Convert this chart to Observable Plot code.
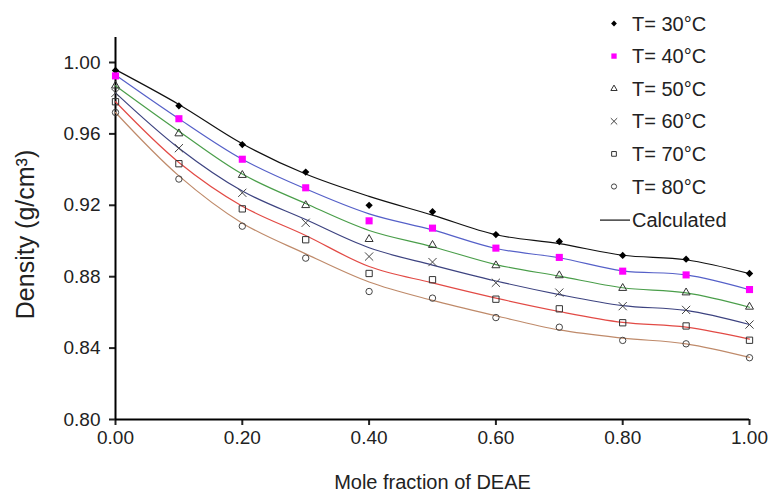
<!DOCTYPE html>
<html><head><meta charset="utf-8">
<script src="https://cdn.jsdelivr.net/npm/d3@7"></script>
<script src="https://cdn.jsdelivr.net/npm/@observablehq/plot@0.6"></script>
<style>
body{margin:0;background:#fff;font-family:"Liberation Sans",Arial,sans-serif;}
#wrap{position:relative;width:768px;height:495px;}
#legend{position:absolute;left:0;top:0;pointer-events:none;}
</style></head><body><div id="wrap"></div>
<script>
const moleFraction = [0, 0.1, 0.2, 0.3, 0.4, 0.5, 0.6, 0.7, 0.8, 0.9, 1.0];
const temperatures = ["T= 30°C", "T= 40°C", "T= 50°C", "T= 60°C", "T= 70°C", "T= 80°C"];
const xTicks = [0, 0.2, 0.4, 0.6, 0.8, 1.0];
const yTicks = [0.80, 0.84, 0.88, 0.92, 0.96, 1.00];

// experimental densities
const exp30 = [0.9955, 0.9757, 0.954, 0.9386, 0.920, 0.9164, 0.9036, 0.8997, 0.8919, 0.8898, 0.8818];
const exp40 = [0.9925, 0.9685, 0.9458, 0.9298, 0.9113, 0.9072, 0.896, 0.8908, 0.8831, 0.881, 0.8728];
const exp50 = [0.987, 0.9602, 0.9369, 0.920, 0.901, 0.8977, 0.8863, 0.8807, 0.8736, 0.8711, 0.8631];
const exp60 = [0.983, 0.952, 0.927, 0.9102, 0.8913, 0.8882, 0.8766, 0.8711, 0.8635, 0.8614, 0.8532];
const exp70 = [0.978, 0.9433, 0.918, 0.9007, 0.8818, 0.8783, 0.8674, 0.862, 0.8542, 0.8524, 0.8444];
const exp80 = [0.972, 0.9347, 0.9083, 0.8904, 0.8717, 0.868, 0.8571, 0.8517, 0.8443, 0.8424, 0.8346];

// calculated densities
const calc30 = [0.996, 0.9765, 0.9545, 0.9375, 0.925, 0.9145, 0.9035, 0.8985, 0.892, 0.8895, 0.8817];
const calc40 = [0.993, 0.9685, 0.9458, 0.9292, 0.9152, 0.9062, 0.8958, 0.8906, 0.8833, 0.881, 0.8727];
const calc50 = [0.987, 0.9615, 0.9375, 0.921, 0.9059, 0.8968, 0.8868, 0.8803, 0.8738, 0.8709, 0.8629];
const calc60 = [0.983, 0.952, 0.928, 0.912, 0.8962, 0.8865, 0.8776, 0.8700, 0.8638, 0.8611, 0.8532];
const calc70 = [0.978, 0.944, 0.9195, 0.9031, 0.8857, 0.8765, 0.868, 0.8605, 0.8544, 0.8517, 0.845];
const calc80 = [0.972, 0.9365, 0.910, 0.8928, 0.877, 0.8667, 0.8581, 0.8502, 0.8456, 0.8424, 0.8348];

const expSeries = [exp30, exp40, exp50, exp60, exp70, exp80];
const calcSeries = [calc30, calc40, calc50, calc60, calc70, calc80];

const lineColors = ["#111111", "#5560c8", "#4a9e4a", "#3d4380", "#e24a45", "#bf8a6a"];
const markers = [
  {symbol: "diamond2", fill: "#000", stroke: "none", r: 3.3, lr: 2.6},
  {symbol: "square", fill: "#ff00ff", stroke: "none", r: 4.0, lr: 3.0},
  {symbol: "triangle2", fill: "none", stroke: "#333", r: 3.8, lr: 3.0},
  {symbol: "times", fill: "none", stroke: "#444", r: 3.8, lr: 3.0},
  {symbol: "square2", fill: "none", stroke: "#333", r: 4.0, lr: 3.0},
  {symbol: "circle", fill: "none", stroke: "#444", r: 3.2, lr: 2.6}
];

const expRows = [];
expSeries.forEach((s, i) => s.forEach((v, j) => expRows.push({T: temperatures[i], x: moleFraction[j], y: v})));
const calcRows = [];
calcSeries.forEach((s, i) => s.forEach((v, j) => calcRows.push({T: temperatures[i], x: moleFraction[j], y: v})));

const font = "'Liberation Sans', Arial, sans-serif";

const plot = Plot.plot({
  width: 768, height: 495,
  marginLeft: 115, marginRight: 19, marginTop: 37, marginBottom: 76,
  style: {fontFamily: font, fontSize: "19px", color: "#222", background: "#fff"},
  x: {domain: [0, 1]},
  y: {domain: [0.80, 1.014]},
  marks: [
    Plot.axisX({ticks: xTicks, tickFormat: d3.format(".2f"), tickSize: 6, tickPadding: 5, strokeWidth: 2, label: null, fontSize: 19}),
    Plot.axisY({ticks: yTicks, tickFormat: d3.format(".2f"), tickSize: 6, tickPadding: 9, strokeWidth: 2, label: null, fontSize: 19}),
    Plot.ruleY([0.80], {strokeWidth: 2, stroke: "#000"}),
    Plot.ruleX([0], {strokeWidth: 2, stroke: "#000"}),
    Plot.text(["Mole fraction of DEAE"], {frameAnchor: "bottom", dy: 63, fontSize: 20, fill: "#222", lineAnchor: "middle"}),
    Plot.text(["Density (g/cm³)"], {frameAnchor: "left", textAnchor: "middle", dx: -90, dy: 6, rotate: -90, fontSize: 25, fill: "#222", lineAnchor: "middle"}),
    ...temperatures.map((t, i) => Plot.line(calcRows.filter(d => d.T === t), {x: "x", y: "y", stroke: lineColors[i], strokeWidth: 1.2, curve: "catmull-rom"})),
    ...temperatures.map((t, i) => Plot.dot(expRows.filter(d => d.T === t), {x: "x", y: "y", symbol: () => markers[i].symbol, r: markers[i].r, fill: markers[i].fill, stroke: markers[i].stroke, strokeWidth: 1}))
  ]
});

const wrap = document.getElementById("wrap");
wrap.appendChild(plot);

// legend overlay
const legendRows = [...temperatures, "Calculated"];
const lg = d3.select(wrap).append("svg").attr("id", "legend").attr("width", 768).attr("height", 495);
const symMap = {diamond2: d3.symbolDiamond2, square: d3.symbolSquare, triangle2: d3.symbolTriangle2, times: d3.symbolTimes, square2: d3.symbolSquare2, circle: d3.symbolCircle};
legendRows.forEach((label, i) => {
  const cy = 23.5 + i * 32.6 + (i === 6 ? 1 : 0);
  if (i < 6) {
    const m = markers[i];
    lg.append("path")
      .attr("d", d3.symbol(symMap[m.symbol], Math.PI * m.lr * m.lr)())
      .attr("transform", `translate(614,${cy})`)
      .attr("fill", m.fill).attr("stroke", m.stroke).attr("stroke-width", 1);
  } else {
    lg.append("line").attr("x1", 600).attr("x2", 630).attr("y1", cy).attr("y2", cy).attr("stroke", "#111").attr("stroke-width", 1.2);
  }
  lg.append("text").attr("x", 632).attr("y", cy).attr("dy", "0.35em")
    .attr("font-family", font).attr("font-size", 20).attr("fill", "#222").text(label);
});
</script></body></html>
